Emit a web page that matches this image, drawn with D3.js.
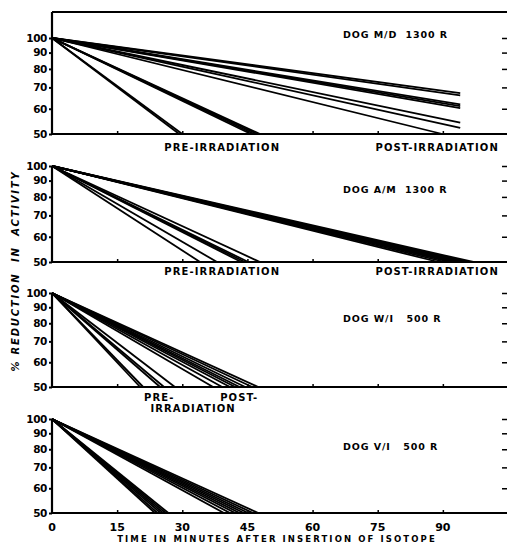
<!DOCTYPE html>
<html>
<head>
<meta charset="utf-8">
<script src="https://cdn.jsdelivr.net/npm/d3@7"></script>
<style>
  body { margin: 0; background: #fff; }
  text { font-family: 'DejaVu Sans', sans-serif; font-weight: bold; fill: #000; }
</style>
</head>
<body>
<script>
// tick values on the log axis and on the time axis
var y_ticks = [100, 90, 80, 70, 60, 50];
var x_ticks = [0, 15, 30, 45, 60, 75, 90];
var x_inner_ticks = [15, 30, 45, 60, 75, 90];

var panel_names = ['DOG M/D  1300 R', 'DOG A/M  1300 R', 'DOG W/I   500 R', 'DOG V/I   500 R'];

// every line runs from (0 min, 100%) to [minutes, %]
var md_lines = [[29.3, 50], [30.0, 50], [45.8, 50], [46.5, 50], [47.2, 50], [47.9, 50],
                [94, 67.2], [94, 66.1], [94, 61.9], [94, 61.1], [94, 60.3], [94, 54.3], [94, 52.3], [89.9, 50]];
var am_lines = [[34.1, 50], [38.0, 50], [43.6, 50], [44.4, 50], [45.2, 50], [47.9, 50],
                [89.0, 50], [90.5, 50], [91.8, 50], [92.8, 50], [93.8, 50], [94.8, 50], [95.8, 50], [97.0, 50]];
var wi_lines = [[20.3, 50], [21.0, 50], [24.9, 50], [25.8, 50], [28.3, 50],
                [37.1, 50], [39.2, 50], [41.0, 50], [42.2, 50], [43.2, 50], [44.5, 50], [46.1, 50], [47.5, 50]];
var vi_lines = [[23.7, 50], [24.3, 50], [25.0, 50], [25.6, 50], [26.2, 50], [26.8, 50],
                [39.6, 50], [41.0, 50], [42.2, 50], [43.2, 50], [44.2, 50], [45.2, 50], [46.3, 50], [47.5, 50]];

var pre_post_1 = ['PRE-IRRADIATION', 'POST-IRRADIATION'];
var pre_post_3 = ['PRE-', 'POST-', 'IRRADIATION'];
var x_title = 'TIME IN MINUTES AFTER INSERTION OF ISOTOPE';
var y_title = '% REDUCTION  IN  ACTIVITY';

var width = 507, height = 544;
var svg = d3.select('body').append('svg').attr('width', width).attr('height', height);

var x_scale = d3.scaleLinear().domain([0, 105]).range([52, 508]);

var panels = [
  {name: panel_names[0], lines: md_lines, top: 38, bottom: 134, label_y: 38},
  {name: panel_names[1], lines: am_lines, top: 166, bottom: 262, label_y: 193},
  {name: panel_names[2], lines: wi_lines, top: 293, bottom: 387, label_y: 322},
  {name: panel_names[3], lines: vi_lines, top: 419, bottom: 513, label_y: 450}
];

function draw_panel(p, idx) {
  var y_scale = d3.scaleLog().domain([50, 100]).range([p.bottom, p.top]);
  var g = svg.append('g');

  // decay lines
  g.selectAll('line.decay').data(p.lines).enter().append('line')
    .attr('class', 'decay')
    .attr('x1', x_scale(0)).attr('y1', y_scale(100))
    .attr('x2', d => x_scale(d[0])).attr('y2', d => y_scale(d[1]))
    .attr('stroke', '#000').attr('stroke-width', 1.8);

  // left axis with labels
  var left = g.append('g').attr('transform', 'translate(' + x_scale(0) + ',0)')
    .call(d3.axisLeft(y_scale).tickValues(y_ticks).tickFormat(d3.format('d')).tickSize(3).tickPadding(2));
  left.select('.domain').remove();
  left.selectAll('line').attr('stroke-width', 2);
  left.selectAll('text').style('font-size', '10.5px').attr('letter-spacing', '-0.4');

  // right side ticks only
  var right = g.append('g').attr('transform', 'translate(507,0)')
    .call(d3.axisLeft(y_scale).tickValues(y_ticks.slice(0, 5)).tickFormat('').tickSize(5));
  right.select('.domain').remove();
  right.selectAll('line').attr('stroke-width', 1.5);

  // vertical axis line (first panel reaches up to the frame)
  var y_top = idx == 0 ? 12 : p.top;
  g.append('line').attr('x1', x_scale(0)).attr('x2', x_scale(0))
    .attr('y1', y_top).attr('y2', p.bottom + 1)
    .attr('stroke', '#000').attr('stroke-width', 2.2);

  // bottom axis with small inner ticks
  var bottom = g.append('g').attr('transform', 'translate(0,' + p.bottom + ')')
    .call(d3.axisBottom(x_scale).tickValues(x_inner_ticks).tickFormat('').tickSizeInner(-3).tickSizeOuter(0));
  bottom.select('.domain').attr('d', 'M' + x_scale(0) + ',0H507').attr('stroke-width', 2.2);
  bottom.selectAll('.tick line').attr('stroke-width', 1.5);

  g.append('text').attr('x', 343).attr('y', p.label_y)
    .style('font-size', '9.5px').style('white-space', 'pre').attr('letter-spacing', '0.9')
    .text(p.name);
}

panels.forEach(draw_panel);

// frame on top of first panel
svg.append('line').attr('x1', x_scale(0)).attr('x2', 507).attr('y1', 12).attr('y2', 12)
  .attr('stroke', '#000').attr('stroke-width', 2);

// labels under the panels
function sub_label(txt, t, y) {
  svg.append('text').attr('x', x_scale(t)).attr('y', y).attr('text-anchor', 'middle')
    .style('font-size', '10px').attr('letter-spacing', '1.1').text(txt);
}
sub_label(pre_post_1[0], 39.2, 151);
sub_label(pre_post_1[1], 88.7, 151);
sub_label(pre_post_1[0], 39.2, 275);
sub_label(pre_post_1[1], 88.7, 275);
sub_label(pre_post_3[0], 24.7, 401);
sub_label(pre_post_3[1], 43.1, 401);
sub_label(pre_post_3[2], 32.5, 412);

// time axis labels on the last panel
svg.selectAll('text.xt').data(x_ticks).enter().append('text')
  .attr('class', 'xt')
  .attr('x', d => x_scale(d)).attr('y', 531).attr('text-anchor', 'middle')
  .style('font-size', '11px').text(d => d);

svg.append('text').attr('x', 277).attr('y', 542).attr('text-anchor', 'middle')
  .style('font-size', '8.5px').attr('letter-spacing', '2.1').text(x_title);

svg.append('text').attr('transform', 'translate(19,271) rotate(-90)').attr('text-anchor', 'middle')
  .style('font-size', '10px').style('font-style', 'italic').style('white-space', 'pre')
  .attr('letter-spacing', '1.8').text(y_title);
</script>
</body>
</html>
